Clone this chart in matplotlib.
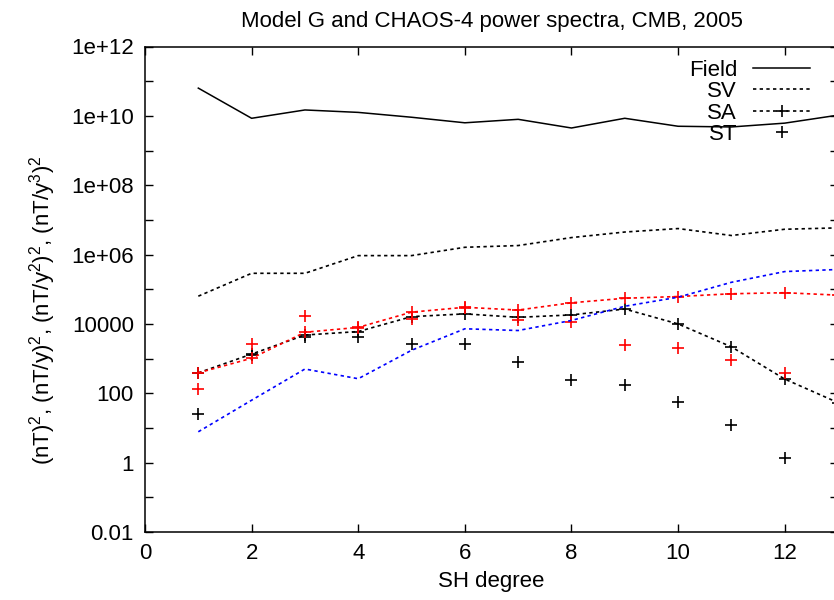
import numpy as np
import matplotlib
matplotlib.use("Agg")
import matplotlib.pyplot as plt
from matplotlib.ticker import FixedLocator, FixedFormatter

plt.rcParams['font.family'] = ['Liberation Sans', 'DejaVu Sans']
plt.rcParams['mathtext.fontset'] = 'custom'
plt.rcParams['mathtext.rm'] = 'Liberation Sans'
plt.rcParams['mathtext.it'] = 'Liberation Sans:italic'

# SH degree
degree = [1, 2, 3, 4, 5, 6, 7, 8, 9, 10, 11, 12, 13]

# log10 of power
field_log = [10.80, 9.93, 10.17, 10.10, 9.96, 9.80, 9.90, 9.65, 9.93, 9.70, 9.68, 9.79, 10.02]
sv_log = [4.80, 5.46, 5.46, 5.97, 5.97, 6.21, 6.26, 6.49, 6.65, 6.75, 6.55, 6.73, 6.77]
sa_black_log = [2.59, 3.13, 3.68, 3.78, 4.21, 4.29, 4.19, 4.26, 4.43, 4.00, 3.34, 2.41, 1.73]
st_black_log = [1.40, 3.11, 3.63, 3.61, 3.42, 3.42, 2.91, 2.38, 2.25, 1.75, 1.08, 0.13]
sa_red_log = [2.59, 3.01, 3.76, 3.90, 4.34, 4.48, 4.40, 4.61, 4.74, 4.79, 4.87, 4.90, 4.83]
st_red_log = [2.12, 3.42, 4.24, 3.89, 4.14, 4.47, 4.10, 4.07, 3.39, 3.31, 2.96, 2.58]
blue_log = [0.89, 1.80, 2.70, 2.42, 3.24, 3.86, 3.81, 4.10, 4.51, 4.77, 5.20, 5.51, 5.57]

xtick_vals = [0, 2, 4, 6, 8, 10, 12]
ytick_vals = [1e-2, 1e-1, 1e0, 1e1, 1e2, 1e3, 1e4, 1e5, 1e6, 1e7, 1e8, 1e9, 1e10, 1e11, 1e12]
ytick_labels = ['0.01', '', '1', '', '100', '', '10000', '', '1e+06', '', '1e+08', '', '1e+10', '', '1e+12']

fig = plt.figure(figsize=(8.34, 6.0), dpi=100)
ax = fig.add_axes([145 / 834, 68 / 600, 693 / 834, 485.5 / 600])

dot = (0, (2, 2))
x = np.array(degree)
ax.plot(x, 10 ** np.array(field_log), color='black', lw=1.1, label='Field')
ax.plot(x, 10 ** np.array(sv_log), color='black', lw=1.2, ls=dot, label='SV')
ax.plot(x, 10 ** np.array(sa_black_log), color='black', lw=1.2, ls=dot,
        marker='+', ms=8, mew=1.2, label='SA')
ax.plot(x[:len(st_black_log)], 10 ** np.array(st_black_log), color='black', ls='none',
        marker='+', ms=8, mew=1.2, label='ST')
ax.plot(x, 10 ** np.array(sa_red_log), color='red', lw=1.2, ls=dot,
        marker='+', ms=8, mew=1.2)
ax.plot(x[:len(st_red_log)], 10 ** np.array(st_red_log), color='red', ls='none',
        marker='+', ms=8, mew=1.2)
ax.plot(x, 10 ** np.array(blue_log), color='blue', lw=1.2, ls=dot)

ax.set_yscale('log')
ax.set_xlim(0, 13)
ax.set_ylim(1e-2, 1e12)
ax.yaxis.set_major_locator(FixedLocator(ytick_vals))
ax.yaxis.set_major_formatter(FixedFormatter(ytick_labels))
ax.yaxis.set_minor_locator(FixedLocator([]))
ax.set_xticks(xtick_vals)
ax.tick_params(direction='in', length=6, width=1.0, top=True, right=True,
               labelsize=16, pad=8)
for s in ax.spines.values():
    s.set_linewidth(1.1)

ax.set_title('Model G and CHAOS-4 power spectra, CMB, 2005', fontsize=16, pad=14)
ax.set_xlabel('SH degree', fontsize=16, labelpad=5)
ax.set_ylabel(r'(nT)$^2$, (nT/y)$^2$, (nT/y$^2$)$^2$, (nT/y$^3$)$^2$', fontsize=16)
ax.yaxis.set_label_coords(-0.125, 0.457)

leg = ax.legend(loc='upper right', bbox_to_anchor=(0.973, 0.991), frameon=False,
                markerfirst=False, fontsize=16, handlelength=2.6,
                handletextpad=0.7, labelspacing=0.02, borderaxespad=0.0)

fig.savefig('out.png', dpi=100)
